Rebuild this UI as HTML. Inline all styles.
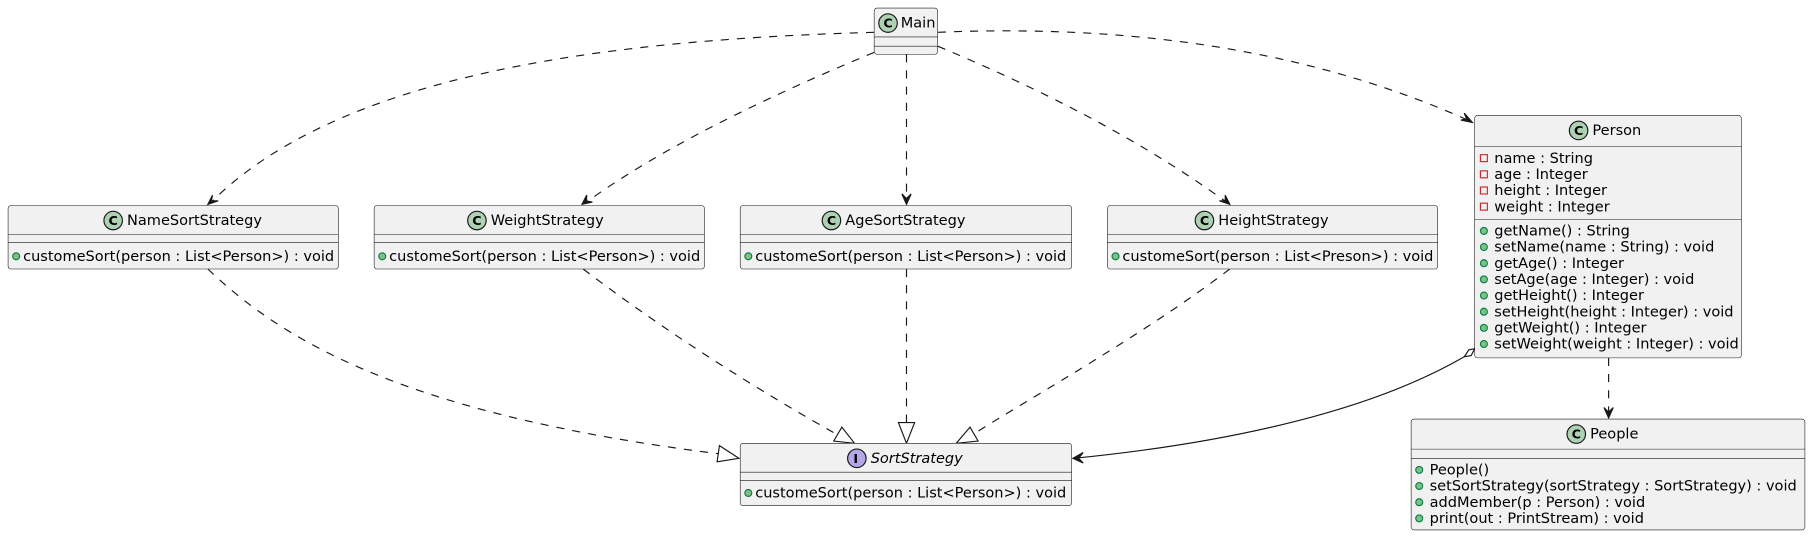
<!DOCTYPE html>
<html><head><meta charset="utf-8"><style>
html,body{margin:0;padding:0;background:#fff;}
svg{display:block;}
text{font-family:"DejaVu Sans","Liberation Sans",sans-serif;font-size:12.6px;fill:#000;}
.box{fill:#F1F1F1;stroke:#181818;stroke-width:0.5;}
.sep{stroke:#181818;stroke-width:0.5;}
.dash{fill:none;stroke:#181818;stroke-width:1;stroke-dasharray:7,7;}
.solid{fill:none;stroke:#181818;stroke-width:1;}
.ah{fill:#181818;stroke:#181818;stroke-width:1;}
.ci{fill:#ADD1B2;stroke:#181818;stroke-width:1;}
.ii{fill:#B4A7E5;stroke:#181818;stroke-width:1;}
.pub{fill:#84BE84;stroke:#038048;stroke-width:1;}
.priv{fill:none;stroke:#C82930;stroke-width:1;}
.ctext{font-weight:bold;font-size:11px;}
.tri{fill:#fff;stroke:#181818;stroke-width:1;}
</style></head><body>
<svg width="1813" height="538" viewBox="0 0 1570 466" preserveAspectRatio="none" xmlns="http://www.w3.org/2000/svg">
<!-- edges -->
<path class="dash" d="M757,28 C500,35 290,70 184,174"/>
<polygon class="ah" points="180,177 184,169 183,174 189,174"/>
<path class="dash" d="M770,40 C660,85 570,130 508,175"/>
<polygon class="ah" points="504,177 508,169 508,174 513,175"/>
<path class="dash" d="M785,47 L785,174"/>
<polygon class="ah" points="785,177 781,168 785,172 789,168"/>
<path class="dash" d="M812,40 C920,85 1000,130 1062,175"/>
<polygon class="ah" points="1065,177 1056,174 1061,174 1061,169"/>
<path class="dash" d="M812,28 C1000,20 1150,50 1271,104"/>
<polygon class="ah" points="1275,106 1265,104 1270,103 1268,98"/>

<path class="dash" d="M180,233 C250,300 360,360 622,393"/>
<polygon class="tri" points="640,397 623,386 621,400"/>
<path class="dash" d="M505,233 C580,290 660,340 726,377"/>
<polygon class="tri" points="740,384 729,370 722,382"/>
<path class="dash" d="M785,233 L785,366"/>
<polygon class="tri" points="785,384 778,366 792,366"/>
<path class="dash" d="M1065,233 C990,290 900,340 843,376"/>
<polygon class="tri" points="828,384 840,370 847,382"/>

<path class="solid" d="M1268,309 C1180,360 1050,385 930,397"/>
<polygon class="ah" points="929,397 938,392 934,397 938,401"/>
<polygon class="tri" points="1277,302 1272,303 1268,309 1274,308"/>
<path class="dash" d="M1393,310 L1393,359"/>
<polygon class="ah" points="1393,362 1389,353 1393,357 1397,353"/>

<!-- Main -->
<rect class="box" x="757" y="7" width="55" height="40" rx="2.5"/>
<circle class="ci" cx="769" cy="20" r="8"/><text class="ctext" x="765" y="24">C</text>
<text x="780" y="24">Main</text>
<line class="sep" x1="757" y1="32" x2="812" y2="32"/><line class="sep" x1="757" y1="40" x2="812" y2="40"/>

<!-- Strategies -->
<g>
<rect class="box" x="7" y="178" width="286" height="55" rx="2.5"/>
<circle class="ci" cx="98" cy="191" r="8"/><text class="ctext" x="94" y="195">C</text>
<text x="110" y="195">NameSortStrategy</text>
<line class="sep" x1="7" y1="203" x2="293" y2="203"/><line class="sep" x1="7" y1="210" x2="293" y2="210"/>
<circle class="pub" cx="14" cy="222" r="3"/><text x="20" y="226">customeSort(person : List&lt;Person&gt;) : void</text>
</g>
<g>
<rect class="box" x="324" y="178" width="286" height="55" rx="2.5"/>
<circle class="ci" cx="413" cy="191" r="8"/><text class="ctext" x="409" y="195">C</text>
<text x="425" y="195">WeightStrategy</text>
<line class="sep" x1="324" y1="203" x2="610" y2="203"/><line class="sep" x1="324" y1="210" x2="610" y2="210"/>
<circle class="pub" cx="331" cy="222" r="3"/><text x="337" y="226">customeSort(person : List&lt;Person&gt;) : void</text>
</g>
<g>
<rect class="box" x="641" y="178" width="287" height="55" rx="2.5"/>
<circle class="ci" cx="720" cy="191" r="8"/><text class="ctext" x="716" y="195">C</text>
<text x="732" y="195">AgeSortStrategy</text>
<line class="sep" x1="641" y1="203" x2="928" y2="203"/><line class="sep" x1="641" y1="210" x2="928" y2="210"/>
<circle class="pub" cx="648" cy="222" r="3"/><text x="654" y="226">customeSort(person : List&lt;Person&gt;) : void</text>
</g>
<g>
<rect class="box" x="959" y="178" width="286" height="55" rx="2.5"/>
<circle class="ci" cx="1043" cy="191" r="8"/><text class="ctext" x="1039" y="195">C</text>
<text x="1055" y="195">HeightStrategy</text>
<line class="sep" x1="959" y1="203" x2="1245" y2="203"/><line class="sep" x1="959" y1="210" x2="1245" y2="210"/>
<circle class="pub" cx="966" cy="222" r="3"/><text x="972" y="226">customeSort(person : List&lt;Preson&gt;) : void</text>
</g>

<!-- Person -->
<rect class="box" x="1277" y="100" width="231" height="210" rx="2.5"/>
<circle class="ci" cx="1367" cy="113" r="8"/><text class="ctext" x="1363" y="117">C</text>
<text x="1379" y="117">Person</text>
<line class="sep" x1="1277" y1="127" x2="1508" y2="127"/>
<rect class="priv" x="1282" y="134" width="6" height="6"/><text x="1294" y="141">name : String</text>
<rect class="priv" x="1282" y="148" width="6" height="6"/><text x="1294" y="155">age : Integer</text>
<rect class="priv" x="1282" y="162" width="6" height="6"/><text x="1294" y="169">height : Integer</text>
<rect class="priv" x="1282" y="176" width="6" height="6"/><text x="1294" y="183">weight : Integer</text>
<line class="sep" x1="1277" y1="190" x2="1508" y2="190"/>
<circle class="pub" cx="1285" cy="200" r="3"/><text x="1294" y="204">getName() : String</text>
<circle class="pub" cx="1285" cy="214" r="3"/><text x="1294" y="218">setName(name : String) : void</text>
<circle class="pub" cx="1285" cy="228" r="3"/><text x="1294" y="232">getAge() : Integer</text>
<circle class="pub" cx="1285" cy="242" r="3"/><text x="1294" y="246">setAge(age : Integer) : void</text>
<circle class="pub" cx="1285" cy="256" r="3"/><text x="1294" y="260">getHeight() : Integer</text>
<circle class="pub" cx="1285" cy="270" r="3"/><text x="1294" y="274">setHeight(height : Integer) : void</text>
<circle class="pub" cx="1285" cy="284" r="3"/><text x="1294" y="288">getWeight() : Integer</text>
<circle class="pub" cx="1285" cy="298" r="3"/><text x="1294" y="302">setWeight(weight : Integer) : void</text>

<!-- People -->
<rect class="box" x="1222" y="363" width="341" height="96" rx="2.5"/>
<circle class="ci" cx="1365" cy="376" r="8"/><text class="ctext" x="1361" y="380">C</text>
<text x="1377" y="380">People</text>
<line class="sep" x1="1222" y1="389" x2="1563" y2="389"/><line class="sep" x1="1222" y1="397" x2="1563" y2="397"/>
<circle class="pub" cx="1229" cy="407" r="3"/><text x="1238" y="411">People()</text>
<circle class="pub" cx="1229" cy="421" r="3"/><text x="1238" y="425">setSortStrategy(sortStrategy : SortStrategy) : void</text>
<circle class="pub" cx="1229" cy="435" r="3"/><text x="1238" y="439">addMember(p : Person) : void</text>
<circle class="pub" cx="1229" cy="449" r="3"/><text x="1238" y="453">print(out : PrintStream) : void</text>

<!-- SortStrategy -->
<rect class="box" x="641" y="384" width="287" height="54" rx="2.5"/>
<circle class="ii" cx="742" cy="397" r="8"/><text class="ctext" x="739" y="401">I</text>
<text x="754" y="401" font-style="italic">SortStrategy</text>
<line class="sep" x1="641" y1="409" x2="928" y2="409"/><line class="sep" x1="641" y1="416" x2="928" y2="416"/>
<circle class="pub" cx="648" cy="427" r="3"/><text x="654" y="431">customeSort(person : List&lt;Person&gt;) : void</text>
</svg>
</body></html>
